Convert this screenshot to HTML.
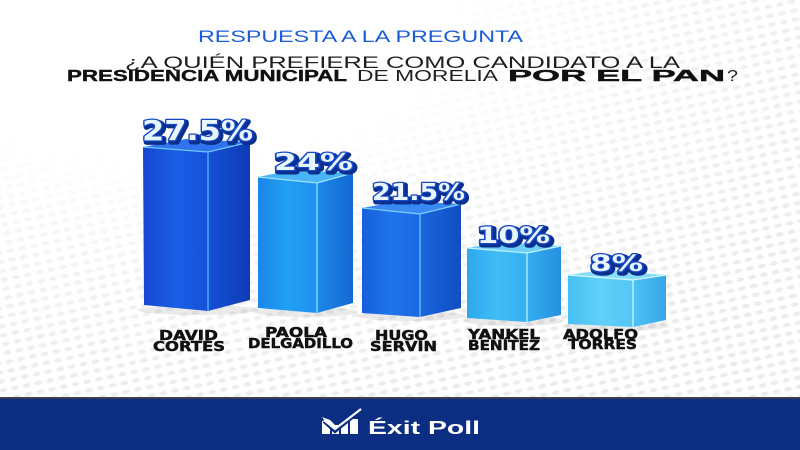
<!DOCTYPE html>
<html><head><meta charset="utf-8"><style>
html,body{margin:0;padding:0;background:#fff;}
svg{display:block;}
</style></head><body>
<svg width="800" height="450" viewBox="0 0 800 450" xmlns="http://www.w3.org/2000/svg">
<defs>
  <pattern id="dots" width="12" height="9" patternUnits="userSpaceOnUse" patternTransform="rotate(-12)">
    <ellipse cx="6" cy="4.5" rx="4" ry="2.2" fill="#dcdcdc"/>
  </pattern>
  <radialGradient id="mg" cx="0.2" cy="0.05" r="0.95">
    <stop offset="0" stop-color="#000"/>
    <stop offset="0.35" stop-color="#000"/>
    <stop offset="0.65" stop-color="#555"/>
    <stop offset="1" stop-color="#888"/>
  </radialGradient>
  <mask id="m"><rect width="800" height="400" fill="url(#mg)"/></mask>
  <linearGradient id="f1" x1="0" x2="1"><stop offset="0" stop-color="#1448cf"/><stop offset="0.5" stop-color="#1b5ee6"/><stop offset="1" stop-color="#1650d8"/></linearGradient>
  <linearGradient id="s1" x1="0" x2="1"><stop offset="0" stop-color="#1550d6"/><stop offset="1" stop-color="#0e3bb5"/></linearGradient>
  <linearGradient id="f2" x1="0" x2="1"><stop offset="0" stop-color="#1a86ea"/><stop offset="0.5" stop-color="#22a0f4"/><stop offset="1" stop-color="#1c90ee"/></linearGradient>
  <linearGradient id="s2" x1="0" x2="1"><stop offset="0" stop-color="#1c88e8"/><stop offset="1" stop-color="#136ad2"/></linearGradient>
  <linearGradient id="f3" x1="0" x2="1"><stop offset="0" stop-color="#165fdc"/><stop offset="0.5" stop-color="#1f74ea"/><stop offset="1" stop-color="#1a68e2"/></linearGradient>
  <linearGradient id="s3" x1="0" x2="1"><stop offset="0" stop-color="#1a66de"/><stop offset="1" stop-color="#114ec2"/></linearGradient>
  <linearGradient id="f4" x1="0" x2="1"><stop offset="0" stop-color="#2ea8ee"/><stop offset="0.5" stop-color="#40bcf4"/><stop offset="1" stop-color="#35b0f0"/></linearGradient>
  <linearGradient id="s4" x1="0" x2="1"><stop offset="0" stop-color="#34aef0"/><stop offset="1" stop-color="#2590e0"/></linearGradient>
  <linearGradient id="f5" x1="0" x2="1"><stop offset="0" stop-color="#48c0f3"/><stop offset="0.5" stop-color="#60d0f8"/><stop offset="1" stop-color="#52c6f5"/></linearGradient>
  <linearGradient id="s5" x1="0" x2="1"><stop offset="0" stop-color="#4cc2f4"/><stop offset="1" stop-color="#36a6ea"/></linearGradient>
</defs>

<rect width="800" height="450" fill="#ffffff"/>
<rect width="800" height="398" fill="url(#dots)" mask="url(#m)"/>

<!-- Title -->
<text x="198" y="42" textLength="325" lengthAdjust="spacingAndGlyphs" font-family="Liberation Sans, sans-serif" font-size="16.5" fill="#1c5cd6">RESPUESTA A LA PREGUNTA</text>
<text x="125" y="68" textLength="555" lengthAdjust="spacingAndGlyphs" font-family="Liberation Sans, sans-serif" font-size="16.5" fill="#1e1e1e">¿A QUIÉN PREFIERE COMO CANDIDATO A LA</text>
<text x="67" y="81" textLength="280" lengthAdjust="spacingAndGlyphs" font-family="Liberation Sans, sans-serif" font-weight="bold" font-size="16" fill="#111" stroke="#111" stroke-width="0.4">PRESIDENCIA MUNICIPAL</text>
<text x="357" y="81" textLength="141" lengthAdjust="spacingAndGlyphs" font-family="Liberation Sans, sans-serif" font-size="16" fill="#1e1e1e">DE MORELIA</text>
<text x="508" y="81" textLength="217" lengthAdjust="spacingAndGlyphs" font-family="Liberation Sans, sans-serif" font-weight="bold" font-size="16" fill="#111" stroke="#111" stroke-width="0.4">POR EL PAN</text>
<text x="727" y="81" textLength="11" lengthAdjust="spacingAndGlyphs" font-family="Liberation Sans, sans-serif" font-size="16" fill="#1e1e1e">?</text>

<!-- Shadows under bars -->
<g fill="#000" opacity="0.08">
  <ellipse cx="198" cy="310" rx="60" ry="5"/>
  <ellipse cx="306" cy="312" rx="52" ry="5"/>
  <ellipse cx="412" cy="316" rx="54" ry="5"/>
  <ellipse cx="514" cy="321" rx="50" ry="5"/>
  <ellipse cx="617" cy="326" rx="52" ry="5"/>
</g>

<!-- Bar 1 -->
<polygon points="143,147 208,152 208,311 144,305" fill="url(#f1)"/>
<polygon points="208,152 250,142 250,300 208,311" fill="url(#s1)"/>
<polygon points="143,147 186,139 250,142 208,152" fill="#2f74ee"/>
<polyline points="143,147 208,152 250,142" fill="none" stroke="#6fc8ff" stroke-width="1.2"/>
<line x1="208" y1="152" x2="208" y2="311" stroke="#4aa8ff" stroke-width="1.5"/>

<!-- Bar 2 -->
<polygon points="258,177 317,183 317,313 258,308" fill="url(#f2)"/>
<polygon points="317,183 353,173 353,303 317,313" fill="url(#s2)"/>
<polygon points="258,177 292,170 353,173 317,183" fill="#4ab4f8"/>
<polyline points="258,177 317,183 353,173" fill="none" stroke="#9de4ff" stroke-width="1.2"/>
<line x1="317" y1="183" x2="317" y2="313" stroke="#7fd8ff" stroke-width="1.5"/>

<!-- Bar 3 -->
<polygon points="362,208 420,214 420,317 362,313" fill="url(#f3)"/>
<polygon points="420,214 461,204 461,308 420,317" fill="url(#s3)"/>
<polygon points="362,208 400,201 461,204 420,214" fill="#3a88f2"/>
<polyline points="362,208 420,214 461,204" fill="none" stroke="#7cd0ff" stroke-width="1.2"/>
<line x1="420" y1="214" x2="420" y2="317" stroke="#5cb8ff" stroke-width="1.5"/>

<!-- Bar 4 -->
<polygon points="467,248 527,253 527,322 467,318" fill="url(#f4)"/>
<polygon points="527,253 561,246 561,315 527,322" fill="url(#s4)"/>
<polygon points="467,248 500,242 561,246 527,253" fill="#6ad0fa"/>
<polyline points="467,248 527,253 561,246" fill="none" stroke="#c4f0ff" stroke-width="1.2"/>
<line x1="527" y1="253" x2="527" y2="322" stroke="#a8e8ff" stroke-width="1.5"/>

<!-- Bar 5 -->
<polygon points="568,275 633,280 633,327 568,324" fill="url(#f5)"/>
<polygon points="633,280 666,275 666,320 633,327" fill="url(#s5)"/>
<polygon points="568,275 602,270 666,275 633,280" fill="#86dcfb"/>
<polyline points="568,275 633,280 666,275" fill="none" stroke="#d8f6ff" stroke-width="1.2"/>
<line x1="633" y1="280" x2="633" y2="327" stroke="#bdf0ff" stroke-width="1.5"/>

<!-- Value labels -->
<g font-family="DejaVu Sans, Liberation Sans, sans-serif" font-weight="bold">
  <g fill="#0a2f8e" stroke="#0a2f8e" stroke-width="5" stroke-linejoin="round">
    <text x="144" y="142" font-size="28" textLength="111" lengthAdjust="spacingAndGlyphs">27.5%</text>
    <text x="276" y="172" font-size="23" textLength="79" lengthAdjust="spacingAndGlyphs">24%</text>
    <text x="374" y="202" font-size="23" textLength="93" lengthAdjust="spacingAndGlyphs">21.5%</text>
    <text x="479" y="245" font-size="22" textLength="73" lengthAdjust="spacingAndGlyphs">10%</text>
    <text x="592" y="273" font-size="22" textLength="53" lengthAdjust="spacingAndGlyphs">8%</text>
  </g>
  <g fill="#e9f5ff" stroke="#1548c4" stroke-width="2.5" paint-order="stroke" stroke-linejoin="round">
    <text x="142" y="140" font-size="28" textLength="111" lengthAdjust="spacingAndGlyphs">27.5%</text>
    <text x="274" y="170" font-size="23" textLength="79" lengthAdjust="spacingAndGlyphs">24%</text>
    <text x="372" y="200" font-size="23" textLength="93" lengthAdjust="spacingAndGlyphs">21.5%</text>
    <text x="477" y="243" font-size="22" textLength="73" lengthAdjust="spacingAndGlyphs">10%</text>
    <text x="590" y="271" font-size="22" textLength="53" lengthAdjust="spacingAndGlyphs">8%</text>
  </g>
</g>

<!-- Names -->
<g font-family="DejaVu Sans, Liberation Sans, sans-serif" font-weight="bold" font-size="13.5" fill="#111" stroke="#111" stroke-width="0.5">
  <text x="159" y="340" textLength="59" lengthAdjust="spacingAndGlyphs">DAVID</text>
  <text x="153" y="351" textLength="72" lengthAdjust="spacingAndGlyphs">CORTÉS</text>
  <text x="265" y="337" textLength="62" lengthAdjust="spacingAndGlyphs">PAOLA</text>
  <text x="248" y="348" textLength="105" lengthAdjust="spacingAndGlyphs">DELGADILLO</text>
  <text x="375" y="340" textLength="53" lengthAdjust="spacingAndGlyphs">HUGO</text>
  <text x="370" y="351" textLength="67" lengthAdjust="spacingAndGlyphs">SERVÍN</text>
  <text x="468" y="339" textLength="72" lengthAdjust="spacingAndGlyphs">YANKEL</text>
  <text x="468" y="350" textLength="72" lengthAdjust="spacingAndGlyphs">BENÍTEZ</text>
  <text x="563" y="339" textLength="75" lengthAdjust="spacingAndGlyphs">ADOLFO</text>
  <text x="568" y="349" textLength="69" lengthAdjust="spacingAndGlyphs">TORRES</text>
</g>

<!-- Footer -->
<rect x="0" y="397" width="800" height="2" fill="#3a3f4a"/>
<rect x="0" y="399" width="800" height="51" fill="#0c2e82"/>
<g fill="#ffffff">
  <rect x="322" y="421" width="8" height="13"/>
  <rect x="332" y="425" width="7" height="9"/>
  <rect x="341" y="423" width="7" height="11"/>
  <rect x="350" y="419" width="8" height="15"/>
  <polygon points="322,417 330,420 336,426 330,428"/>
</g>
<polyline points="324,421 335,431 362,409" fill="none" stroke="#0c2e82" stroke-width="4"/>
<polyline points="324,420 335,429 361,409" fill="none" stroke="#ffffff" stroke-width="2.2"/>
<text x="368" y="434" textLength="112" lengthAdjust="spacingAndGlyphs" font-family="Liberation Sans, sans-serif" font-weight="bold" font-size="18" fill="#ffffff">Éxit Poll</text>
</svg>
</body></html>
